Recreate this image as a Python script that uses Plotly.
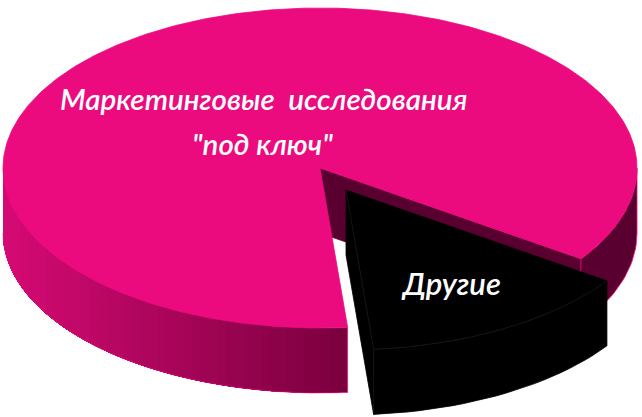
#! /usr/bin/env python3
# 3D-looking pie with an exploded slice, built from filled scatter polygons
import math
import plotly.graph_objects as go

label_main = ["Маркетинговые  исследования", "\"под ключ\""]
label_rest = "Другие"
shares     = [86, 14] # percent
start      = 85.0     # degrees, clockwise from 3 o'clock, where the first slice begins

width, height = 642, 417
cx, cy = 320, 168   # centre of top face [px]
rx, ry = 317, 160   # ellipse radii
depth  = 65
dx, dy = 26, 22     # explode offset of the second slice
pink   = '#EC0A7F'
wall   = '#5A0030'


def point(angle,x0=0,y0=0):
  """Point on the top rim for an angle in degrees."""
  a = math.radians(angle)
  return cx+x0+rx*math.cos(a), cy+y0+ry*math.sin(a)
  

def arc(a1,a2,x0=0,y0=0,n=120):
  """List of rim points between two angles."""
  pts = [point(a1+(a2-a1)*i/n,x0,y0) for i in range(n+1)]
  return [p[0] for p in pts], [p[1] for p in pts]
  

def poly(fig,x,y,color,line=None,lwidth=0.8):
  fig.add_trace(go.Scatter(
    x=x,y=y,mode='lines',fill='toself',fillcolor=color,
    line=dict(color=line or color,width=lwidth),hoverinfo='skip',
  ))
  

def side(fig,a1,a2,color,x0=0,y0=0,line=None,lwidth=0.8,n=24):
  """Outer wall between two angles."""
  xs, ys = arc(a1,a2,x0,y0,n=n)
  poly(fig,xs+xs[::-1]+xs[:1],ys+[v+depth for v in ys[::-1]]+ys[:1],color,line,lwidth)
  

def shade(t):
  """Left wall gradient, t=0 at the cut and t=1 at 9 o'clock."""
  r = 122+(212-122)*t
  g = 0+(10-0)*t
  b = 62+(115-62)*t
  return f"rgb({r:.0f},{g:.0f},{b:.0f})"
  

def label(fig,x,y,text,size):
  fig.add_annotation(x=x,y=y,text=text,showarrow=False,
                     font=dict(color='white',size=size,family='Lato',style='italic',weight=600),
                     xanchor='center',yanchor='middle')
  

sweep1 = 360*shares[0]/sum(shares)
end1   = start+sweep1

fig = go.Figure()

# first slice: cut wall, right outer wall, left outer wall in bands, top face
ax, ay = cx, cy
ex, ey = point(end1)
poly(fig,[ax,ex,ex,ax,ax],[ay,ey,ey+depth,ay+depth,ay],wall)
side(fig,360,end1,wall,line=pink)
# bands are even in x and overlap towards the left, so no seams show
nbands = 40
xright = point(start)[0]
xleft  = point(180)[0]
for i in range(nbands):
  xb = xright+(xleft-xright)*i/nbands
  a1 = math.degrees(math.acos(max(-1,min(1,(xb-cx)/rx))))
  side(fig,a1,180,shade(i/(nbands-1)),lwidth=0,n=60)
xs, ys = arc(start,180,n=120)
fig.add_trace(go.Scatter( # thin pink rim along the wall
  x=[xs[0]]+xs,y=[ys[0]]+[v+depth for v in ys],
  mode='lines',line=dict(color=pink,width=0.6),hoverinfo='skip',
))
xs, ys = arc(start,end1,n=400)
poly(fig,[ax]+xs+[ax],[ay]+ys+[ay],pink)

# second slice, pulled out: cut wall, outer wall, top face
ax2, ay2 = cx+dx, cy+dy
sx, sy = point(start,dx,dy)
poly(fig,[ax2,sx,sx,ax2,ax2],[ay2,sy,sy+depth,ay2+depth,ay2],'black')
side(fig,end1,start+360,'black',dx,dy)
xs, ys = arc(end1,start+360,dx,dy)
poly(fig,[ax2]+xs+[ax2],[ay2]+ys+[ay2],'black')
fig.add_trace(go.Scatter(
  x=[ax2]+xs[::-1]+[None,sx,sx],y=[ay2]+ys[::-1]+[None,sy,sy+depth],
  mode='lines',line=dict(color='#1c1c1c',width=0.7),hoverinfo='skip',
))

label(fig,264,98,label_main[0],29.5)
label(fig,262,143,label_main[1],29.5)
label(fig,451,283,label_rest,31)

fig.update_layout(
  width=width,height=height,
  margin=dict(l=0,r=0,t=0,b=0),
  paper_bgcolor='white',plot_bgcolor='white',
  showlegend=False,
  xaxis=dict(range=[0,width],visible=False,fixedrange=True),
  yaxis=dict(range=[height,0],visible=False,fixedrange=True),
)
fig.write_html("out.html",config={'displayModeBar':False},
               post_script="document.body.style.margin='0';")
